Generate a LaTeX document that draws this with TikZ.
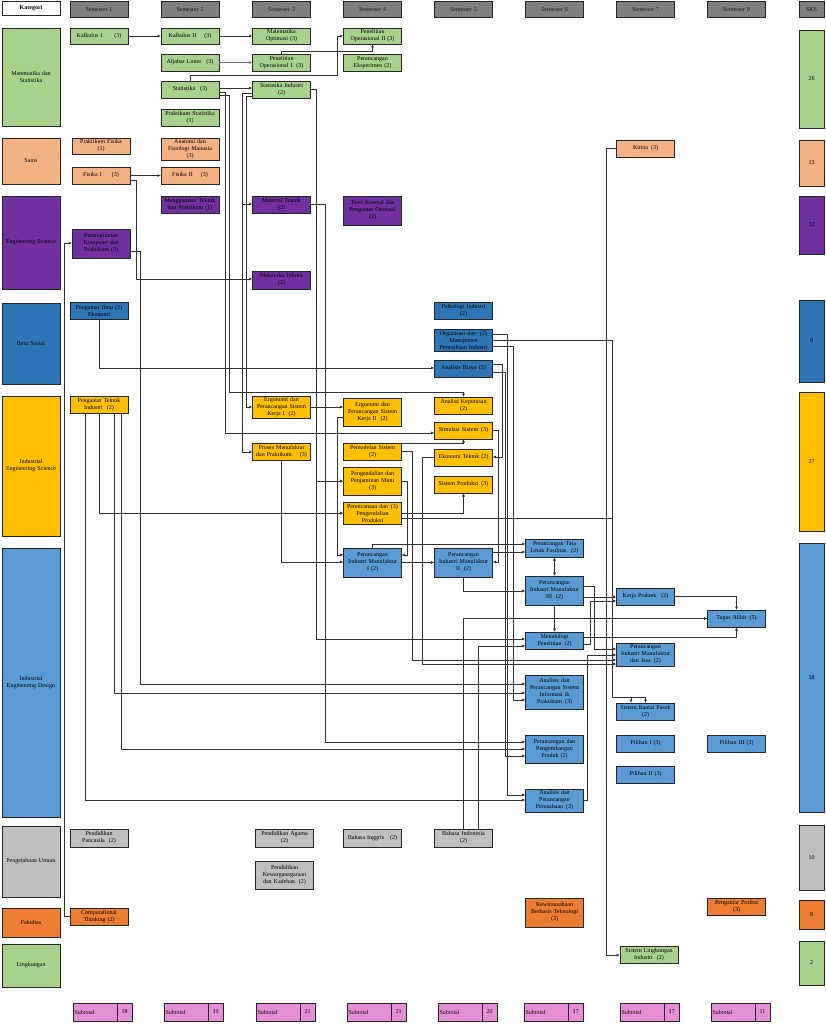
\documentclass[tikz,border=0pt]{standalone}
\usepackage{fontspec}
\setmainfont{Liberation Serif}
\usetikzlibrary{arrows.meta}
\definecolor{cgr}{HTML}{A9D18E}
\definecolor{csa}{HTML}{F4B183}
\definecolor{cpu}{HTML}{7030A0}
\definecolor{cbd}{HTML}{2E75B6}
\definecolor{cye}{HTML}{FFC000}
\definecolor{cbl}{HTML}{5B9BD5}
\definecolor{cgy}{HTML}{BFBFBF}
\definecolor{cor}{HTML}{ED7D31}
\definecolor{chd}{HTML}{7F7F7F}
\definecolor{cpk}{HTML}{E68FD9}
\begin{document}
\begin{tikzpicture}[x=1pt,y=-1pt,
  every node/.style={font=\fontsize{6}{7}\selectfont},
  cb/.style={draw=black!85, line width=0.8pt, rectangle, minimum width=58pt, text width=56pt, align=center, inner sep=0.5pt, outer sep=0pt},
  sk/.style={cb, minimum width=25pt, text width=23pt},
  ln/.style={draw=black!80, line width=0.75pt},
  ar/.style={ln, -{Latex[length=3.5pt,width=3pt]}},
  arb/.style={ln, {Latex[length=3.5pt,width=3pt]}-{Latex[length=3.5pt,width=3pt]}}]
\fill[white] (0,0) rectangle (826,1024);
\useasboundingbox (0,0) rectangle (826,1024);
% categories
\node[cb,fill=white,minimum height=14pt,font=\fontsize{6}{7}\selectfont\bfseries] (kat) at (31,8) {Kategori};
\node[cb,fill=cgr,minimum height=98pt] (c1) at (31,77) {Matematika dan\\Statistika};
\node[cb,fill=csa,minimum height=46pt] (c2) at (31,161) {Sains};
\node[cb,fill=cpu,minimum height=93pt] (c3) at (31,242.5) {Engineering Science};
\node[cb,fill=cbd,minimum height=81pt] (c4) at (31,343.5) {Ilmu Sosial};
\node[cb,fill=cye,minimum height=140pt] (c5) at (31,466) {Industrial\\Engineering Science};
\node[cb,fill=cbl,minimum height=269pt] (c6) at (31,682.5) {Industrial\\Engineering Design};
\node[cb,fill=cgy,minimum height=71pt] (c7) at (31,861.5) {Pengetahuan Umum};
\node[cb,fill=cor,minimum height=29pt] (c8) at (31,922.5) {Fakultas};
\node[cb,fill=cgr,minimum height=43pt] (c9) at (31,965.5) {Lingkungan};
% headers
\foreach \i/\x in {1/99,2/190,3/281.5,4/372.5,5/463.5,6/554.5,7/645.5,8/736.5}
  \node[cb,fill=chd,minimum height=16pt,text=black!90] (s\i) at (\x,9.5) {Semester \i};
\node[sk,fill=chd,minimum height=16pt,text=black!90] (sks) at (811.5,9.5) {SKS};
% SKS
\node[sk,fill=cgr,minimum height=98pt] (k26) at (811.5,79) {26};
\node[sk,fill=csa,minimum height=46pt] (k13) at (811.5,163) {13};
\node[sk,fill=cpu,minimum height=58pt] (k12) at (811.5,225) {12};
\node[sk,fill=cbd,minimum height=82pt] (k8a) at (811.5,341) {8};
\node[sk,fill=cye,minimum height=139pt] (k27) at (811.5,461.5) {27};
\node[sk,fill=cbl,minimum height=269pt] (k38) at (811.5,677.5) {38};
\node[sk,fill=cgy,minimum height=65pt] (k10) at (811.5,857.5) {10};
\node[sk,fill=cor,minimum height=29pt] (k8b) at (811.5,914.5) {8};
\node[sk,fill=cgr,minimum height=44pt] (k2) at (811.5,963) {2};
% subtotals
\foreach \i/\x/\v in {1/73/18,2/164/19,3/256/21,4/347/21,5/438/20,6/524/17,7/620/17,8/711/11} {
  \node[cb,fill=cpk,minimum width=44pt,text width=41pt,align=left,minimum height=18pt] (stl\i) at (\x+22,1012) {Subtotal};
  \node[cb,fill=cpk,minimum width=15pt,text width=13pt,minimum height=18pt] (stn\i) at (\x+51.5,1012) {\v};
}
% Semester 1
\node[cb,fill=cgr,minimum height=16pt] (k1) at (99,36) {Kalkulus I\hspace{12pt}(3)};
\node[cb,fill=csa,minimum height=16pt] (pf) at (101,146) {Praktikum Fisika\\(1)};
\node[cb,fill=csa,minimum height=17pt] (f1) at (101,175.5) {Fisika I\hspace{10pt}(3)};
\node[cb,fill=cpu,minimum height=29pt] (pk) at (101,243.5) {Pemrograman\\Komputer dan\\Praktikum (3)};
\node[cb,fill=cbd,minimum height=17pt] (pie) at (99,310.5) {Pengantar Ilmu (2)\\Ekonomi};
\node[cb,fill=cye,minimum height=17pt] (pti) at (99,404.5) {Pengantar Teknik\\Industri\hspace{4pt}(2)};
\node[cb,fill=cgy,minimum height=18pt] (pp) at (99,838) {Pendidikan\\Pancasila\hspace{4pt}(2)};
\node[cb,fill=cor,minimum height=17pt] (ct) at (99,916.5) {Computational\\Thinking (2)};
% Semester 2
\node[cb,fill=cgr,minimum height=16pt] (k2n) at (190,36) {Kalkulus II\hspace{8pt}(3)};
\node[cb,fill=cgr,minimum height=17pt] (al) at (190,62.5) {Aljabar Linier\hspace{5pt}(3)};
\node[cb,fill=cgr,minimum height=17pt] (st) at (190,89.5) {Statistika\hspace{5pt}(3)};
\node[cb,fill=cgr,minimum height=17pt] (ps) at (190,117.5) {Praktikum Statistika\\(1)};
\node[cb,fill=csa,minimum height=22pt] (af) at (190,149) {Anatomi dan\\Fisiologi Manusia\\(3)};
\node[cb,fill=csa,minimum height=17pt] (f2) at (190,175.5) {Fisika II\hspace{8pt}(3)};
\node[cb,fill=cpu,minimum height=17pt] (mt) at (190,204.5) {Menggambar Teknik\\dan Praktikum (1)};
% Semester 3
\node[cb,fill=cgr,minimum height=16pt] (mo) at (281.5,36) {Matematika\\Optimasi (3)};
\node[cb,fill=cgr,minimum height=17pt] (po1) at (281.5,62.5) {Penelitian\\Operasional I\hspace{4pt}(3)};
\node[cb,fill=cgr,minimum height=17pt] (si) at (281.5,89.5) {Statistika Industri\\(2)};
\node[cb,fill=cpu,minimum height=17pt] (mat) at (281.5,204.5) {Material Teknik\\(2)};
\node[cb,fill=cpu,minimum height=18pt] (mek) at (281.5,280) {Mekanika Teknik\\(2)};
\node[cb,fill=cye,minimum height=22pt] (er1) at (281.5,407) {Ergonomi dan\\Perancangan Sistem\\Kerja I\hspace{4pt}(2)};
\node[cb,fill=cye,minimum height=17pt] (pm) at (281.5,451.5) {Proses Manufaktur\\dan Praktikum\hspace{8pt}(3)};
\node[cb,fill=cgy,minimum height=18pt] (pa) at (284.5,838) {Pendidikan Agama\\(2)};
\node[cb,fill=cgy,minimum height=28pt] (pkk) at (284.5,875) {Pendidikan\\Kewarganegaraan\\dan Kadehan\hspace{4pt}(2)};
% Semester 4
\node[cb,fill=cgr,minimum height=16pt] (po2) at (372.5,36) {Penelitian\\Operasional II (3)};
\node[cb,fill=cgr,minimum height=17pt] (pe) at (372.5,62.5) {Perancangan\\Eksperimen (2)};
\node[cb,fill=cpu,minimum height=29pt] (tk) at (372.5,210.5) {Teori Kontrol dan\\Pengantar Otomasi\\(2)};
\node[cb,fill=cye,minimum height=28pt] (er2) at (372.5,412) {Ergonomi dan\\Perancangan Sistem\\Kerja II\hspace{4pt}(2)};
\node[cb,fill=cye,minimum height=17pt] (pms) at (372.5,451.5) {Pemodelan Sistem\\(2)};
\node[cb,fill=cye,minimum height=28pt] (ppm) at (372.5,481) {Pengendalian dan\\Penjaminan Mutu\\(3)};
\node[cb,fill=cye,minimum height=22pt] (ppp) at (372.5,513) {Perencanaan dan\hspace{3pt}(3)\\Pengendalian\\Produksi};
\node[cb,fill=cbl,minimum height=29pt] (pim1) at (372.5,562.5) {Perancangan\\Industri Manufaktur\\I (2)};
\node[cb,fill=cgy,minimum height=18pt] (bi) at (372.5,838) {Bahasa Inggris\hspace{6pt}(2)};
% Semester 5
\node[cb,fill=cbd,minimum height=17pt] (psi) at (463.5,310.5) {Psikologi Industri\\(2)};
\node[cb,fill=cbd,minimum height=22pt] (org) at (463.5,340) {Organisasi dan\hspace{4pt}(2)\\Manajemen\\Perusahaan Industri};
\node[cb,fill=cbd,minimum height=17pt] (ab) at (463.5,368.5) {Analisis Biaya (2)};
\node[cb,fill=cye,minimum height=17pt] (ak) at (463.5,405.5) {Analisa Keputusan\\(2)};
\node[cb,fill=cye,minimum height=17pt] (ss) at (463.5,430.5) {Simulasi Sistem\hspace{3pt}(3)};
\node[cb,fill=cye,minimum height=17pt] (et) at (463.5,457.5) {Ekonomi Teknik (2)};
\node[cb,fill=cye,minimum height=17pt] (sp) at (463.5,484.5) {Sistem Produksi\hspace{3pt}(3)};
\node[cb,fill=cbl,minimum height=29pt] (pim2) at (463.5,562.5) {Perancangan\\Industri Manufaktur\\II\hspace{4pt}(2)};
\node[cb,fill=cgy,minimum height=18pt] (bin) at (463.5,838) {Bahasa Indonesia\\(2)};
% Semester 6
\node[cb,fill=cbl,minimum height=18pt] (tlf) at (554.5,548) {Perancangan Tata\\Letak Fasilitas\hspace{5pt}(2)};
\node[cb,fill=cbl,minimum height=29pt] (pim3) at (554.5,590.5) {Perancangan\\Industri Manufaktur\\III\hspace{4pt}(2)};
\node[cb,fill=cbl,minimum height=17pt] (mp) at (554.5,640.5) {Metodologi\\Penelitian\hspace{3pt}(2)};
\node[cb,fill=cbl,minimum height=34pt] (asi) at (554.5,692) {Analisis dan\\Perancangan Sistem\\Informasi \&\\Praktikum\hspace{3pt}(3)};
\node[cb,fill=cbl,minimum height=28pt] (ppr) at (554.5,749) {Perancangan dan\\Pengembangan\\Produk (2)};
\node[cb,fill=cbl,minimum height=23pt] (app) at (554.5,800.5) {Analisis dan\\Perancangan\\Perusahaan\hspace{3pt}(3)};
\node[cb,fill=cor,minimum height=29pt] (kbt) at (554.5,912.5) {Kewirausahaan\\Berbasis Teknologi\\(3)};
% Semester 7
\node[cb,fill=csa,minimum height=17pt] (ki) at (645.5,148.5) {Kimia\hspace{3pt}(3)};
\node[cb,fill=cbl,minimum height=17pt] (kp) at (645.5,596.5) {Kerja Praktek\hspace{5pt}(2)};
\node[cb,fill=cbl,minimum height=23pt] (pimj) at (645.5,654.5) {Perancangan\\Industri Manufaktur\\dan Jasa\hspace{3pt}(2)};
\node[cb,fill=cbl,minimum height=17pt] (srp) at (645.5,711.5) {Sistem Rantai Pasok\\(2)};
\node[cb,fill=cbl,minimum height=17pt] (p1) at (645.5,743.5) {Pilihan I (3)};
\node[cb,fill=cbl,minimum height=17pt] (p2) at (645.5,774.5) {Pilihan II (3)};
\node[cb,fill=cgr,minimum height=17pt] (sli) at (649,954.5) {Sistem Lingkungan\\Industri\hspace{4pt}(2)};
% Semester 8
\node[cb,fill=cbl,minimum height=17pt] (ta) at (736.5,618.5) {Tugas Akhir\hspace{3pt}(5)};
\node[cb,fill=cbl,minimum height=17pt] (p3) at (736.5,743.5) {Pilihan III (3)};
\node[cb,fill=cor,minimum height=17pt] (pro) at (736.5,906.5) {Pengantar Profesi\\(3)};
% connectors
\draw[ar] (k1) -- (k2n);
\draw[ar] (k2n) -- (mo);
\draw[ar,draw=black!55] (al) -- (po1);
\draw[ar] (po1.north) |- (po2.south |- 0,51) -- (po2.south);
\draw[ar] (st.north) |- (337,75) |- (po2.west);
\draw[ar] (st.east |- 0,88) -- (si.west |- 0,88);
\draw[ar] (st.east |- 0,92) -| (225,433) -- (ss.west |- 0,433);
\draw[ar] (st.east |- 0,95) -| (229,392) -| (ak.north);
\draw[ar] (si.west |- 0,93) -| (242,204) -- (mat.west |- 0,204);
\draw[ar] (si.west |- 0,93) -| (242,452) -- (pm.west |- 0,452);
\draw[ar] (si.west |- 0,96) -| (246,407) -- (er1.west |- 0,407);
\draw[ar] (si.east |- 0,89) -| (316,639) -- (mp.west |- 0,639);
\draw[ar] (si.east |- 0,89) -| (316,481) -- (ppm.west |- 0,481);
\draw[ar] (mat.east) -| (325,742) -- (ppr.west |- 0,742);
\draw[ar] (er1.east) -- (er2.west |- er1.east);
\draw[ar] (er2.west |- 0,417) -| (337,555) -- (pim1.west |- 0,555);
\draw[ar] (pm.south) |- (pim1.west |- 0,562);
\draw[ar] (f1) -- (f2);
\draw[ar] (f1.east |- 0,180) -| (136,279) -- (mek.west |- 0,279);
\draw[ar] (pk.east |- 0,251) -| (140,684) -- (asi.west |- 0,684);
\draw[ar] (ct.west) -| (64,243) -- (pk.west |- 0,243);
\draw[ar] (pie.south) |- (ab.west |- 0,368);
\draw[ar] (pti.south) |- (ppp.west |- 0,513);
\draw[ar] (85,0 |- pti.south) |- (app.west |- 0,800);
\draw[ar] (114,0 |- pti.south) |- (asi.west |- 0,693);
\draw[ar] (121,0 |- pti.south) |- (ppr.west |- 0,749);
\draw[ar] (ppp.east |- 0,513) -| (sp.south);
\draw[ar] (ppp.east |- 0,518) -| (612,697) -| (srp.north);
\draw[ar] (org.east |- 0,340) -| (612,697) -| (631,0 |- srp.north);
\draw[ar] (org.east |- 0,334) -| (507,795) -- (app.west |- 0,795);
\draw[ar] (org.east |- 0,346) -| (513,700) -- (asi.west |- 0,700);
\draw[ar] (ab.east |- 0,364) -| (502,457) -- (et.east |- 0,457);
\draw[ar] (ab.east |- 0,372) -| (505,756) -- (ppr.west |- 0,756);
\draw[ar] (ss.east) -| (498,562) -- (pim2.east |- 0,562);
\draw[ar] (pms.north east) -| (ss.south);
\draw[ar] (pms.east) -| (412,660) -- (pimj.west |- 0,660);
\draw[ar] (et.west) -| (422,664) -- (pimj.west |- 0,664);
\draw[ar] (ppm.east) -| (407,555) -- (pim1.east |- 0,555);
\draw[ar] (pim1) -- (pim2);
\draw[ar] (pim1.north) |- (tlf.west |- 0,544);
\draw[ar] (pim2.east |- 0,552) -- (tlf.west |- 0,552);
\draw[arb] (tlf) -- (pim3);
\draw[ar] (pim2.south) |- (pim3.west |- 0,591);
\draw[ar] (pim3) -- (mp);
\draw[ar] (pim3.east |- 0,597) -- (kp.west |- 0,597);
\draw[ar] (pim3.east |- 0,586) -| (594,649) -- (pimj.west |- 0,649);
\draw[ar] (mp.east |- 0,644) -| (590,601) -- (kp.west |- 0,601);
\draw[ar] (mp.east |- 0,637) -| (ta.south);
\draw[ar] (kp.east) -| (ta.north);
\draw[ar] (463,0 |- bin.north) |- (ta.west);
\draw[ar] (478,0 |- bin.north) |- (mp.west |- 0,646);
\draw[ar] (app.east) -| (587,655) -- (pimj.west |- 0,655);
\draw[ar] (ki.west) -| (606,955) -- (sli.west |- 0,955);
\end{tikzpicture}
\end{document}
